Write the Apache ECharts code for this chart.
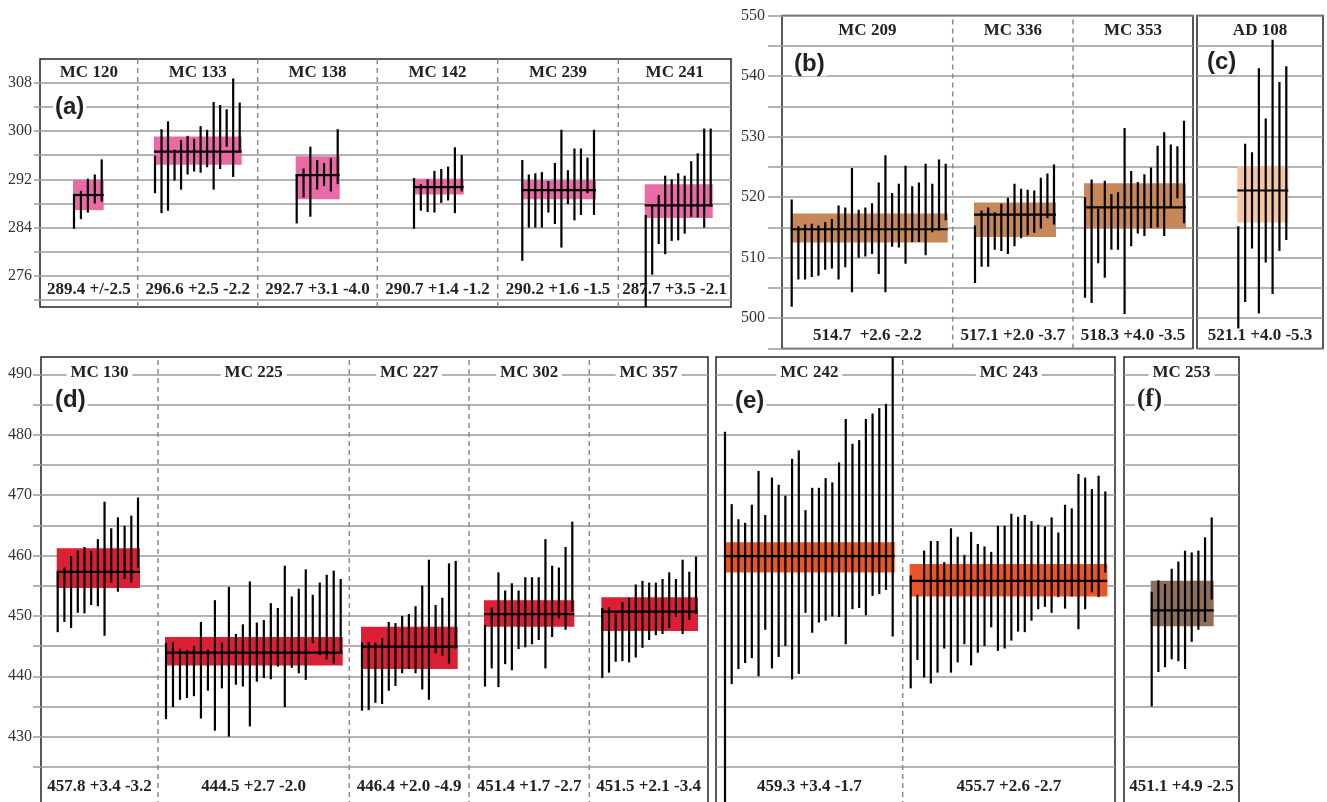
<!DOCTYPE html>
<html>
<head>
<meta charset="utf-8">
<script src="https://cdn.jsdelivr.net/npm/echarts@6/dist/echarts.min.js"></script>
<style>
  html, body { margin: 0; padding: 0; background: #fff; }
  #main { width: 1327px; height: 802px; }
</style>
</head>
<body>
<div id="main"></div>
<script>
// ---- panel (a) ----
const namesA = ['MC 120', 'MC 133', 'MC 138', 'MC 142', 'MC 239', 'MC 241'];
const summaryA = ['289.4 +/-2.5', '296.6 +2.5 -2.2', '292.7 +3.1 -4.0', '290.7 +1.4 -1.2', '290.2 +1.6 -1.5', '287.7 +3.5 -2.1'];
const meanA = [289.4, 296.6, 292.7, 290.7, 290.2, 287.7];
const upperA = [291.9, 299.1, 295.8, 292.1, 291.8, 291.2];
const lowerA = [286.9, 294.4, 288.7, 289.5, 288.7, 285.6];
const barLowA = [
  [283.8, 285.4, 286.5, 288.0, 288.3],
  [289.7, 286.4, 286.8, 291.8, 290.3, 292.8, 293.3, 293.1, 294.0, 290.3, 293.7, 297.4, 292.4, 296.6],
  [284.7, 289.0, 285.8, 290.3, 290.9, 290.0, 291.2],
  [283.8, 286.8, 286.6, 286.5, 288.1, 288.5, 286.4, 290.0],
  [278.5, 284.0, 284.0, 284.0, 286.5, 284.6, 280.7, 287.9, 285.2, 286.1, 289.7, 286.1],
  [270.8, 276.2, 281.3, 279.6, 281.8, 281.9, 283.0, 285.8, 285.7, 284.0, 287.5]
];
const barHighA = [
  [289.6, 290.1, 292.1, 292.8, 295.3],
  [295.9, 300.3, 301.6, 296.9, 298.5, 299.2, 298.7, 300.8, 300.2, 304.8, 304.3, 303.6, 308.7, 304.7],
  [292.8, 293.8, 297.4, 295.2, 294.7, 295.5, 300.3],
  [292.2, 291.2, 292.0, 293.4, 293.7, 294.1, 297.3, 296.0],
  [295.2, 292.8, 293.0, 293.2, 291.7, 294.7, 300.2, 293.5, 297.1, 297.1, 295.6, 300.2],
  [286.1, 287.6, 289.4, 292.6, 292.0, 293.0, 292.6, 295.0, 296.3, 300.4, 300.4]
];
const ticksA = [272, 276, 280, 284, 288, 292, 296, 300, 304, 308, 312];
const labelsA = [276, 284, 292, 300, 308];

// ---- panel (b) ----
const namesB = ['MC 209', 'MC 336', 'MC 353'];
const summaryB = ['514.7  +2.6 -2.2', '517.1 +2.0 -3.7', '518.3 +4.0 -3.5'];
const meanB = [514.7, 517.1, 518.3];
const upperB = [517.3, 519.1, 522.3];
const lowerB = [512.5, 513.4, 514.8];
const barLowB = [
  [501.9, 506.4, 506.4, 506.8, 507.0, 508.0, 508.2, 506.4, 508.4, 504.3, 510.0, 510.2, 510.6, 507.3, 504.3, 511.8, 511.7, 509.0, 512.6, 512.6, 510.4, 514.2, 514.5, 516.2],
  [505.8, 508.5, 508.5, 511.3, 511.1, 510.6, 511.9, 513.2, 513.7, 514.1, 514.8, 516.5, 515.5],
  [503.4, 502.5, 509.1, 506.7, 511.3, 511.3, 500.7, 511.9, 514.0, 513.6, 514.9, 515.0, 513.6, 518.3, 519.8, 515.7]
];
const barHighB = [
  [519.6, 515.2, 515.5, 515.6, 515.3, 515.9, 516.4, 518.6, 518.3, 524.8, 517.9, 518.3, 519.0, 522.4, 526.9, 520.7, 522.2, 525.2, 521.8, 522.4, 525.5, 522.2, 526.2, 525.5],
  [515.3, 517.8, 518.3, 517.5, 518.9, 519.9, 522.2, 521.4, 521.2, 521.1, 523.2, 523.9, 525.4],
  [520.0, 522.9, 518.1, 522.7, 520.5, 520.8, 531.4, 524.3, 522.5, 523.8, 524.9, 528.5, 530.7, 528.7, 528.4, 532.6]
];
const ticksB = [495, 500, 505, 510, 515, 520, 525, 530, 535, 540, 545, 550];
const labelsB = [500, 510, 520, 530, 540, 550];

// ---- panel (c) ----
const namesC = ['AD 108'];
const summaryC = ['521.1 +4.0 -5.3'];
const meanC = [521.1];
const upperC = [525.1];
const lowerC = [515.8];
const barLowC = [[498.3, 502.7, 511.5, 500.8, 509.2, 504.0, 511.1, 512.9]];
const barHighC = [[515.2, 528.8, 527.4, 541.3, 533.0, 546.0, 539.0, 541.6]];

// ---- panel (d) ----
const namesD = ['MC 130', 'MC 225', 'MC 227', 'MC 302', 'MC 357'];
const summaryD = ['457.8 +3.4 -3.2', '444.5 +2.7 -2.0', '446.4 +2.0 -4.9', '451.4 +1.7 -2.7', '451.5 +2.1 -3.4'];
const meanD = [457.3, 443.9, 444.9, 450.3, 450.7];
const upperD = [461.2, 446.5, 448.2, 452.6, 453.1];
const lowerD = [454.6, 441.8, 441.2, 448.2, 447.5];
const barLowD = [
  [447.3, 449.0, 448.0, 450.5, 450.4, 451.8, 451.6, 446.7, 455.5, 454.0, 456.1, 455.5, 457.9],
  [432.9, 434.9, 436.1, 436.4, 436.7, 433.0, 437.6, 431.0, 438.0, 430.0, 438.6, 438.3, 431.7, 439.1, 439.7, 439.5, 441.6, 434.9, 441.4, 440.5, 439.4, 445.5, 443.5, 442.8, 442.1, 443.9],
  [434.3, 434.4, 435.6, 435.4, 437.6, 438.4, 440.5, 441.2, 440.5, 437.8, 436.1, 443.8, 443.4, 442.0, 444.6],
  [438.3, 441.3, 438.2, 442.0, 441.0, 444.5, 444.8, 445.3, 446.0, 441.3, 446.5, 449.6, 447.7, 450.7],
  [439.7, 440.6, 442.4, 442.5, 442.3, 443.1, 444.7, 446.0, 446.8, 447.0, 448.0, 449.8, 447.0, 449.3, 450.3]
];
const barHighD = [
  [457.2, 458.0, 459.9, 460.8, 461.4, 460.7, 462.7, 468.9, 464.5, 466.3, 464.9, 466.6, 469.6],
  [445.5, 445.6, 444.6, 444.3, 445.0, 449.0, 444.4, 452.6, 445.6, 454.8, 447.0, 448.6, 455.7, 448.9, 449.3, 452.1, 451.3, 458.3, 453.2, 454.5, 457.7, 453.5, 455.5, 456.8, 457.5, 456.1],
  [445.6, 445.7, 445.6, 446.3, 449.0, 448.8, 450.0, 450.3, 451.6, 455.0, 459.3, 451.8, 453.0, 458.7, 459.1],
  [448.5, 451.4, 457.2, 454.2, 455.4, 454.2, 456.4, 456.4, 456.4, 462.7, 458.3, 458.0, 461.4, 465.6],
  [451.3, 451.4, 450.4, 452.3, 453.0, 455.2, 455.8, 455.5, 455.5, 456.1, 457.2, 456.1, 459.3, 457.3, 459.8]
];
const ticksD = [425, 430, 435, 440, 445, 450, 455, 460, 465, 470, 475, 480, 485, 490];
const labelsD = [430, 440, 450, 460, 470, 480, 490];

// ---- panel (e) ----
const namesE = ['MC 242', 'MC 243'];
const summaryE = ['459.3 +3.4 -1.7', '455.7 +2.6 -2.7'];
const meanE = [459.9, 455.8];
const upperE = [462.2, 458.6];
const lowerE = [457.2, 453.2];
const barLowE = [
  [418.0, 438.7, 441.2, 442.2, 443.0, 440.0, 447.7, 441.3, 443.2, 445.0, 439.5, 440.4, 450.5, 447.2, 448.9, 449.2, 449.9, 449.8, 445.3, 451.1, 451.3, 450.1, 453.3, 453.6, 454.3, 446.6],
  [438.0, 442.7, 439.8, 438.8, 440.6, 444.6, 440.6, 442.3, 445.3, 441.8, 443.9, 445.0, 448.1, 444.2, 444.6, 445.9, 447.4, 447.3, 449.2, 451.1, 451.5, 450.5, 453.1, 451.2, 453.2, 447.8, 451.1, 453.9, 453.1, 457.2]
];
const barHighE = [
  [480.5, 468.5, 466.0, 465.4, 468.4, 474.0, 466.7, 472.9, 471.7, 469.9, 476.0, 477.4, 467.5, 471.2, 471.2, 472.8, 472.1, 475.4, 482.6, 478.5, 479.1, 482.6, 483.5, 484.4, 485.1, 495.0],
  [456.7, 453.5, 460.8, 462.4, 462.4, 458.9, 464.5, 463.1, 460.1, 463.9, 461.9, 461.5, 460.6, 464.9, 464.9, 466.9, 466.4, 466.7, 465.7, 465.1, 464.8, 466.3, 463.8, 468.4, 467.8, 473.5, 472.9, 471.0, 473.2, 470.6]
];

// ---- panel (f) ----
const namesF = ['MC 253'];
const summaryF = ['451.1 +4.9 -2.5'];
const meanF = [450.9];
const upperF = [455.8];
const lowerF = [448.3];
const barLowF = [[435.0, 440.7, 441.5, 442.8, 442.5, 441.2, 445.7, 447.7, 449.0, 452.7]];
const barHighF = [[454.0, 455.9, 455.3, 457.8, 459.0, 460.8, 460.5, 460.8, 463.0, 466.3]];

// layout of the boxes (pixels) and where each sample's bars start / end
const panels = [
  { tag: '(a)', tagPos: [53, 107], box: [40, 59, 691, 248], yr: [270.86, 311.92], ticks: ticksA, labels: labelsA, showY: true, tickLen: 6, margin: 8,
    edges: [40, 137.7, 257.7, 377.3, 497.7, 618.3, 731], first: [74, 155, 296.7, 414, 522.3, 645.7], last: [101.7, 239.7, 337.7, 461.7, 594, 710.7],
    names: namesA, summary: summaryA, mean: meanA, upper: upperA, lower: lowerA, lo: barLowA, hi: barHighA, color: '#e96aa7', nameY: 309.6, sumY: 273.7, bg: null },
  { tag: '(b)', tagPos: [792, 64], box: [782, 15.5, 411, 333], yr: [495, 550], ticks: ticksB, labels: labelsB, showY: true, tickLen: 14, margin: 17,
    edges: [782, 952.7, 1073, 1193], first: [791.7, 975, 1085], last: [945.7, 1054, 1184],
    names: namesB, summary: summaryB, mean: meanB, upper: upperB, lower: lowerB, lo: barLowB, hi: barHighB, color: '#c6875a', nameY: 547.5, sumY: 497.2, bg: null },
  { tag: '(c)', tagPos: [1205, 62], box: [1197, 15.5, 126, 333], yr: [495, 550], ticks: ticksB, labels: labelsB, showY: false,
    edges: [1197, 1323], first: [1238.3], last: [1286.3],
    names: namesC, summary: summaryC, mean: meanC, upper: upperC, lower: lowerC, lo: barLowC, hi: barHighC, color: '#f6c6a0', nameY: 547.5, sumY: 497.2, bg: null },
  { tag: '(d)', tagPos: [53, 400], box: [41, 357, 667, 449], yr: [418.52, 492.86], ticks: ticksD, labels: labelsD, showY: true, tickLen: 8, margin: 9,
    edges: [41, 158, 349.3, 469, 589.3, 708], first: [57.7, 166, 362, 485, 602.3], last: [138, 340.7, 455.7, 572.3, 696],
    names: namesD, summary: summaryD, mean: meanD, upper: upperD, lower: lowerD, lo: barLowD, hi: barHighD, color: '#db1f35', nameY: 490.3, sumY: 421.8, bg: '#fff' },
  { tag: '(e)', tagPos: [733, 401], box: [716, 357, 399, 449], yr: [418.52, 492.86], ticks: ticksD, labels: labelsD, showY: false,
    edges: [716, 902.7, 1115], first: [725, 910.7], last: [892.7, 1105.3],
    names: namesE, summary: summaryE, mean: meanE, upper: upperE, lower: lowerE, lo: barLowE, hi: barHighE, color: '#eb5428', nameY: 490.3, sumY: 421.8, bg: '#fff' },
  { tag: '(f)', tagPos: [1135, 400], box: [1124, 357, 115, 449], yr: [418.52, 492.86], ticks: ticksD, labels: labelsD, showY: false, serifTag: true,
    edges: [1124, 1239], first: [1151.7], last: [1211.7],
    names: namesF, summary: summaryF, mean: meanF, upper: upperF, lower: lowerF, lo: barLowF, hi: barHighF, color: '#8d6f59', nameY: 490.3, sumY: 421.8, bg: '#fff' }
];

const gridColor = '#9a9a9a';
const textFont = 'bold 17px "Liberation Serif"';

let grids = [], xAxes = [], yAxes = [], series = [], graphics = [];

panels.forEach(function (p, gi) {
  grids.push({ left: p.box[0], top: p.box[1], width: p.box[2], height: p.box[3], show: true,
    borderColor: '#222', borderWidth: 1.5, backgroundColor: 'transparent', outerBoundsMode: 'none' });
  xAxes.push({ type: 'value', gridIndex: gi, min: p.edges[0], max: p.edges[p.edges.length - 1], show: false });
  yAxes.push({
    type: 'value', gridIndex: gi, min: p.yr[0], max: p.yr[1],
    axisLine: { show: false },
    axisTick: { show: p.showY, length: p.tickLen, customValues: p.ticks, lineStyle: { color: gridColor, width: 1.5 } },
    axisLabel: { show: p.showY, customValues: p.labels, margin: p.margin, color: '#333', fontFamily: 'Liberation Serif', fontSize: 16 },
    splitLine: { show: true, lineStyle: { color: gridColor, width: 1.5 } }
  });

  const common = { type: 'custom', xAxisIndex: gi, yAxisIndex: gi, silent: true, clip: true };

  // dashed dividers between samples
  const inner = p.edges.slice(1, -1).map(function (x) { return [x, p.yr[0], p.yr[1]]; });
  series.push(Object.assign({}, common, {
    z: 1, data: inner, encode: { x: 0, y: [1, 2] },
    renderItem: function (params, api) {
      const a = api.coord([api.value(0), api.value(1)]);
      const b = api.coord([api.value(0), api.value(2)]);
      return { type: 'line', shape: { x1: a[0], y1: a[1], x2: b[0], y2: b[1] },
        style: { stroke: '#8a8a8a', lineWidth: 1.5, lineDash: [5, 4] } };
    }
  }));

  // weighted-mean boxes
  series.push(Object.assign({}, common, {
    z: 2, data: p.mean.map(function (m, i) { return [p.first[i] - 1, p.last[i] + 2, p.lower[i], p.upper[i]]; }),
    encode: { x: [0, 1], y: [2, 3] },
    renderItem: function (params, api) {
      const a = api.coord([api.value(0), api.value(3)]);
      const b = api.coord([api.value(1), api.value(2)]);
      return { type: 'rect', shape: { x: a[0], y: a[1], width: b[0] - a[0], height: b[1] - a[1] },
        style: { fill: p.color } };
    }
  }));

  // individual analyses
  const bars = [];
  p.lo.forEach(function (arr, s) {
    const step = arr.length > 1 ? (p.last[s] - p.first[s]) / (arr.length - 1) : 0;
    arr.forEach(function (v, i) { bars.push([p.first[s] + i * step, v, p.hi[s][i]]); });
  });
  series.push(Object.assign({}, common, {
    z: 3, data: bars, encode: { x: 0, y: [1, 2] },
    renderItem: function (params, api) {
      const a = api.coord([api.value(0), api.value(1)]);
      const b = api.coord([api.value(0), api.value(2)]);
      return { type: 'line', shape: { x1: a[0], y1: a[1], x2: b[0], y2: b[1] },
        style: { stroke: '#000', lineWidth: 2.2 } };
    }
  }));

  // mean lines
  series.push(Object.assign({}, common, {
    z: 4, data: p.mean.map(function (m, i) { return [p.first[i] - 1, p.last[i] + 2, m]; }),
    encode: { x: [0, 1], y: 2 },
    renderItem: function (params, api) {
      const a = api.coord([api.value(0), api.value(2)]);
      const b = api.coord([api.value(1), api.value(2)]);
      return { type: 'line', shape: { x1: a[0], y1: a[1], x2: b[0], y2: b[1] },
        style: { stroke: '#000', lineWidth: 2.2 } };
    }
  }));

  // sample names and ages
  const centers = p.names.map(function (n, i) { return (p.edges[i] + p.edges[i + 1]) / 2; });
  [[p.names, p.nameY, p.bg], [p.summary, p.sumY, null]].forEach(function (t) {
    series.push(Object.assign({}, common, {
      z: 5, clip: false, data: centers.map(function (c) { return [c, t[1]]; }),
      encode: { x: 0, y: 1 },
      renderItem: function (params, api) {
        const a = api.coord([api.value(0), api.value(1)]);
        return { type: 'text', x: a[0], y: a[1],
          style: { text: t[0][params.dataIndex], fill: '#222', font: textFont, align: 'center', verticalAlign: 'middle',
            backgroundColor: t[2] || 'transparent', padding: [1, 4] } };
      }
    }));
  });

  graphics.push({ type: 'text', x: p.tagPos[0], y: p.tagPos[1], z: 100,
    style: { text: p.tag, fill: '#222', verticalAlign: 'middle', backgroundColor: '#fff', padding: [0, 2],
      font: p.serifTag ? 'bold 25px "Liberation Serif"' : 'bold 24px "Liberation Sans"' } });
});

const chart = echarts.init(document.getElementById('main'));
chart.setOption({
  animation: false,
  backgroundColor: '#fff',
  grid: grids,
  xAxis: xAxes,
  yAxis: yAxes,
  series: series,
  graphic: graphics
});
</script>
</body>
</html>
